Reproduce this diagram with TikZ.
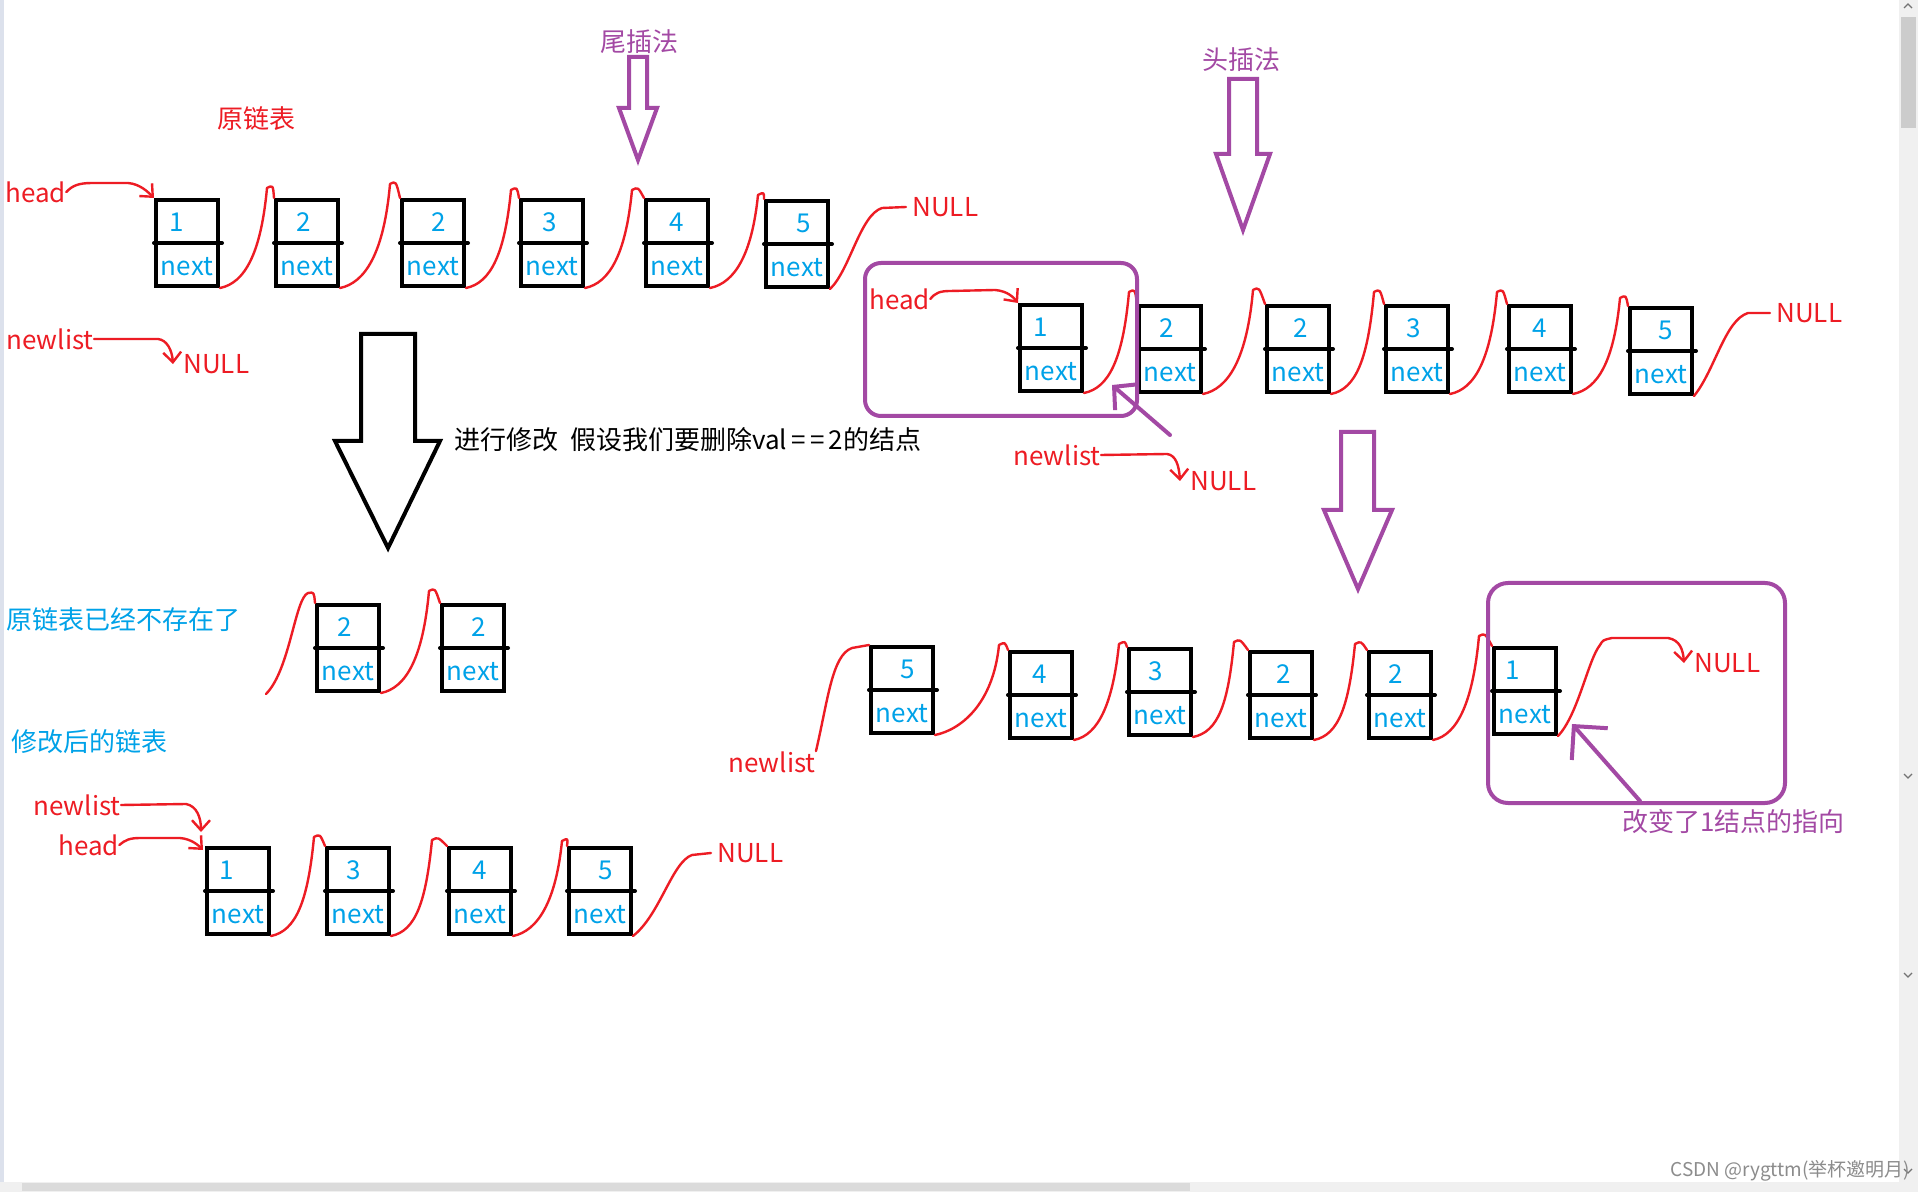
\documentclass[tikz,border=0pt]{standalone}
\usepackage{fontspec}
\setmainfont{Noto Sans CJK SC}
\usetikzlibrary{arrows.meta,calc}
\definecolor{pred}{HTML}{ED1C24}
\definecolor{pblue}{HTML}{00A2E8}
\definecolor{ppurple}{HTML}{A349A4}
\definecolor{edgeblue}{HTML}{DCE1EC}

\newcommand\llbox[5]{%
  \node[lbox] (#1) at (#2,#3) {};
  \draw[line width=2pt, line cap=round] (#1.west) -- ([xshift=1pt]#1.east);
  \node[dig] (#1d) at ([shift={(#5,-21)}]#1.center) {#4};
  \node[nxt] (#1n) at ([shift={(0,24)}]#1.center) {next};
}
\newcommand\lnk[4]{%
  \draw[link] (#1.south east) .. controls ([shift={(25,-5)}]#1.south east) and ([shift={(#3-6,55)}]#2.north west) .. ([shift={(#3,#4)}]#2.north west) .. controls ([shift={(#3+6,#4-3)}]#2.north west) .. (#2.north west);
}

\begin{document}
\begin{tikzpicture}[x=0.5pt,y=-0.5pt,
 txt/.style={inner sep=0pt, font=\fontsize{13}{15}\selectfont},
 lbl/.style={txt, pred, anchor=west},
 lbox/.style={draw, line width=2pt, minimum width=31pt, minimum height=43pt, inner sep=0pt},
 dig/.style={txt, pblue},
 nxt/.style={txt, pblue},
 link/.style={pred, line width=1.2pt, line cap=round, line join=round},
 rarrow/.style={link, -{Straight Barb[length=5pt,width=9pt]}},
 parrowA/.style={ppurple, line width=2pt, line cap=round, -{Straight Barb[length=8pt,width=17pt]}},
 parrowB/.style={ppurple, line width=2pt, line cap=round, -{Straight Barb[length=12pt,width=24pt]}},
 blockarrow/.style={line width=2pt, line join=miter},
]
\fill[white] (0,0) rectangle (1918,1192);
\useasboundingbox (0,0) rectangle (1918,1192);

% window chrome
\fill[edgeblue] (0,0) rectangle (4,1182);
\fill[black!6] (1899,0) rectangle (1918,1182);
\fill[black!20] (1901,17) rectangle (1916,128);
\fill[black!6] (0,1182) rectangle (1918,1192);
\fill[black!14] (22,1183) rectangle (1190,1191);
\draw[black!55, line width=0.6pt] (1904,8) -- (1908,4) -- (1912,8);
\draw[black!55, line width=0.6pt] (1904,774) -- (1908,778) -- (1912,774);
\draw[black!55, line width=0.6pt] (1904,973) -- (1908,977) -- (1912,973);
\draw[black!55, line width=0.6pt] (1904,1169) -- (1908,1173) -- (1912,1169);

% ---------- labels ----------
\node[lbl] (t0) at (217,119) {原链表};
\node[lbl] (h1) at (5,192) {head};
\node[lbl] (nl1) at (6,339) {newlist};
\node[lbl] (n1) at (183,364) {NULL};
\node[lbl] (n2) at (912,207) {NULL};
\node[lbl, ppurple] (t1) at (600,42) {尾插法};
\node[lbl, ppurple] (t2) at (1202,60) {头插法};
\node[lbl] (h2) at (869,299) {head};
\node[lbl] (nl2) at (1013,455) {newlist};
\node[lbl] (n3) at (1190,481) {NULL};
\node[lbl] (n6) at (1776,313) {NULL};
\node[lbl, black] (t3) at (454,440) {进行修改 \ 假设我们要删除val\,=\,=\,2的结点};
\node[lbl, pblue] (t4) at (6,620) {原链表已经不存在了};
\node[lbl, pblue] (t5) at (11,742) {修改后的链表};
\node[lbl] (nl3) at (33,805) {newlist};
\node[lbl] (h3) at (58,845) {head};
\node[lbl] (n4) at (717,853) {NULL};
\node[lbl] (nl4) at (728,762) {newlist};
\node[lbl] (n5) at (1694,663) {NULL};
\node[lbl, ppurple] (t6) at (1622,822) {改变了1结点的指向};
\node[anchor=west, inner sep=0pt, font=\fontsize{9.5}{11}\selectfont, text=black!45] (wm) at (1670,1171) {CSDN @rygttm(举杯邀明月)};

% ---------- boxes ----------
\llbox{A1}{187}{243}{1}{-10}
\llbox{A2}{307}{243}{2}{-3}
\llbox{A3}{433}{243}{2}{6}
\llbox{A4}{552}{243}{3}{-2}
\llbox{A5}{677}{243}{4}{0}
\llbox{A6}{797}{244}{5}{7}
\llbox{B1}{1051}{348}{1}{-10}
\llbox{B2}{1170}{349}{2}{-3}
\llbox{B3}{1298}{349}{2}{3}
\llbox{B4}{1417}{349}{3}{-3}
\llbox{B5}{1540}{349}{4}{0}
\llbox{B6}{1661}{351}{5}{5}
\llbox{C1}{348}{648}{2}{-3}
\llbox{C2}{473}{648}{2}{6}
\llbox{D1}{238}{891}{1}{-11}
\llbox{D2}{358}{891}{3}{-4}
\llbox{D3}{480}{891}{4}{0}
\llbox{D4}{600}{891}{5}{6}
\llbox{E1}{902}{690}{5}{6}
\llbox{E2}{1041}{695}{4}{-1}
\llbox{E3}{1160}{692}{3}{-4}
\llbox{E4}{1281}{695}{2}{3}
\llbox{E5}{1400}{695}{2}{-4}
\llbox{E6}{1525}{691}{1}{-12}

% ---------- links ----------
\lnk{A1}{A2}{-7}{-10}
\lnk{A2}{A3}{-10}{-14}
\lnk{A3}{A4}{-8}{-8}
\lnk{A4}{A5}{-12}{-8}
\lnk{A5}{A6}{-6}{-4}
\lnk{B1}{B2}{-8}{-12}
\lnk{B2}{B3}{-12}{-14}
\lnk{B3}{B4}{-10}{-12}
\lnk{B4}{B5}{-10}{-12}
\lnk{B5}{B6}{-8}{-8}
\lnk{C1}{C2}{-11}{-12}
\lnk{D1}{D2}{-11}{-9}
\lnk{D2}{D3}{-15}{-6}
\lnk{D3}{D4}{-5}{-5}
\lnk{E1}{E2}{-9}{-5}
\lnk{E2}{E3}{-8}{-3}
\lnk{E3}{E4}{-14}{-8}
\lnk{E4}{E5}{-12}{-6}
\lnk{E5}{E6}{-13}{-10}

\draw[link] (A6.south east) .. controls (850,270) and (860,215) .. (882,208) -- ([xshift=-3pt]n2.west);
\draw[link] (B6.south east) .. controls (1715,370) and (1725,320) .. (1748,313) -- ([xshift=-3pt]n6.west);
\draw[link] (D4.south east) .. controls (660,915) and (672,862) .. (692,855) -- ([xshift=-3pt]n4.west);
\coordinate (c0) at (266,694);
\draw[link] (c0) .. controls (290,670) and (295,598) .. (308,593) .. controls (314,592) .. (C1.north west);
\draw[link] (nl4.north east) .. controls (828,700) and (832,655) .. (852,648) -- (E1.north west);

% ---------- red arrows ----------
\draw[rarrow] (h1.east) .. controls (72,186) and (78,183) .. (92,183) -- (128,183) .. controls (140,184) and (148,192) .. (A1.north west);
\draw[rarrow] (nl1.east) -- (158,339) .. controls (167,340) and (172,350) .. ([xshift=-5pt]n1.west);
\draw[rarrow] (h2.east) .. controls (935,293) and (940,291) .. (950,291) -- (995,290) .. controls (1008,291) and (1014,298) .. (B1.north west);
\draw[rarrow] (nl2.east) -- (1167,454) .. controls (1176,455) and (1179,466) .. ([xshift=-5pt]n3.west);
\draw[rarrow] (nl3.east) -- (186,804) .. controls (197,806) and (201,818) .. ([shift={(-4,-14)}]D1.north west);
\draw[rarrow] (h3.east) .. controls (125,840) and (130,838) .. (140,838) -- (180,838) .. controls (192,839) and (199,846) .. ([shift={(-2,4)}]D1.north west);
\draw[rarrow] (E6.south east) .. controls (1578,715) and (1588,660) .. (1600,645) .. controls (1603,640) .. (1612,638) -- (1668,638) .. controls (1680,640) and (1683,650) .. ([xshift=-5pt]n5.west);

% ---------- purple frames and pointers ----------
\draw[ppurple, line width=2pt, rounded corners=8pt] (865,263) rectangle (1137,416);
\draw[ppurple, line width=2pt, rounded corners=10pt] (1488,583) rectangle (1785,803);
\coordinate (p1s) at (1170,435);
\coordinate (p1t) at (1112,385);
\draw[parrowA] (p1s) -- (p1t);
\coordinate (p2s) at (1640,801);
\coordinate (p2t) at (1572,724);
\draw[parrowB] (p2s) -- (p2t);

% ---------- block arrows ----------
\draw[blockarrow, ppurple] (629,57) -- (647,57) -- (647,108) -- (657,108) -- (638,160) -- (619,108) -- (629,108) -- cycle;
\draw[blockarrow, ppurple] (1229,79) -- (1257,79) -- (1257,154) -- (1270,154) -- (1243,230) -- (1216,154) -- (1229,154) -- cycle;
\draw[blockarrow, ppurple] (1341,432) -- (1374,432) -- (1374,510) -- (1392,510) -- (1358,589) -- (1324,510) -- (1341,510) -- cycle;
\draw[blockarrow, black] (361,334) -- (415,334) -- (415,441) -- (440,441) -- (388,548) -- (335,441) -- (361,441) -- cycle;
\end{tikzpicture}
\end{document}
